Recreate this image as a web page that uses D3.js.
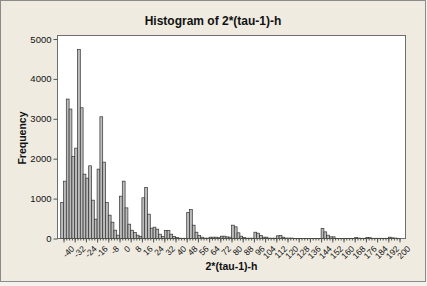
<!DOCTYPE html>
<html>
<head>
<meta charset="utf-8">
<script src="https://cdn.jsdelivr.net/npm/d3@7"></script>
<style>
  html, body { margin: 0; padding: 0; background: #f4f2ec; }
  svg { display: block; }
</style>
</head>
<body>
<div class="viz"></div>
<script>
// histogram counts, bins of width 2 starting at -42
var binStart = -42,
    binWidth = 2;

var counts = [
    903, 1437, 3495, 3244, 2057, 2265, 4741, 3277, 1613, 1513,
    1822, 961, 484, 1739, 3051, 1914, 903, 585, 409, 208,
    83, 1061, 1437, 768, 359, 208, 150, 83, 50, 1020,
    1280, 610, 259, 284, 234, 108, 50, 200, 200, 108,
    50, 25, 8, 5, 5, 652, 727, 334, 158, 75,
    33, 10, 8, 33, 33, 33, 20, 58, 58, 40,
    33, 334, 292, 142, 58, 25, 8, 8, 8, 158,
    133, 75, 33, 33, 8, 8, 8, 67, 75, 33,
    10, 10, 10, 3, 3, 3, 3, 3, 3, 3,
    3, 3, 3, 250, 166, 83, 42, 42, 4, 4,
    4, 4, 4, 4, 4, 25, 10, 5, 5, 25,
    20, 5, 5, 5, 5, 5, 5, 33, 17, 10,
    5
];

var xTicks = [-40, -32, -24, -16, -8, 0, 8, 16, 24, 32, 40, 48, 56, 64, 72, 80,
    88, 96, 104, 112, 120, 128, 136, 144, 152, 160, 168, 176, 184, 192, 200];
var yTicks = [0, 1000, 2000, 3000, 4000, 5000];

var width = 427,
    height = 286;

var frame = { left: 57.5, right: 405.5, top: 35.5, bottom: 238.5 };

var svg = d3.select(".viz").append("svg")
    .attr("width", width)
    .attr("height", height);

// outer panel
svg.append("rect")
    .attr("x", 0.5).attr("y", 0.5)
    .attr("width", 425).attr("height", 281)
    .attr("fill", "#efebe1")
    .attr("stroke", "#8a8a8a");

// data region
svg.append("rect")
    .attr("x", frame.left).attr("y", frame.top)
    .attr("width", frame.right - frame.left)
    .attr("height", frame.bottom - frame.top)
    .attr("fill", "#ffffff")
    .attr("stroke", "#6e6e6e");

var x = d3.scaleLinear()
    .domain([-40, 200])
    .range([63.5, 399.5]);

var y = d3.scaleLinear()
    .domain([0, 5000])
    .range([238.5, 39]);

var bins = counts.map(function(c, i) {
    return { x0: binStart + i * binWidth, x1: binStart + (i + 1) * binWidth, n: c };
});

svg.append("g")
    .selectAll("rect")
    .data(bins)
    .enter().append("rect")
    .attr("x", function(d) { return x(d.x0); })
    .attr("y", function(d) { return y(d.n); })
    .attr("width", function(d) { return x(d.x1) - x(d.x0); })
    .attr("height", function(d) { return y(0) - y(d.n); })
    .attr("fill", "#bcbcbc")
    .attr("stroke", "#333")
    .attr("stroke-width", 0.7);

var plain = function(d) { return String(d); };

// y axis
var yAxis = svg.append("g")
    .attr("transform", "translate(" + frame.left + ",0)")
    .call(d3.axisLeft(y).tickValues(yTicks).tickSize(4).tickPadding(2).tickFormat(plain));

yAxis.select(".domain").remove();
yAxis.selectAll("line").attr("stroke", "#555");
yAxis.selectAll("text")
    .attr("font-family", "Liberation Sans, Arial, sans-serif")
    .attr("font-size", "9.5px")
    .attr("fill", "#111");

// x axis, minor ticks every 2
var xMinor = svg.append("g")
    .attr("transform", "translate(0," + frame.bottom + ")")
    .call(d3.axisBottom(x).tickValues(d3.range(-40, 201, 2)).tickSize(2).tickFormat(""));
xMinor.select(".domain").remove();
xMinor.selectAll("line").attr("stroke", "#555");

var xAxis = svg.append("g")
    .attr("transform", "translate(0," + frame.bottom + ")")
    .call(d3.axisBottom(x).tickValues(xTicks).tickSize(4).tickPadding(2).tickFormat(plain));

xAxis.select(".domain").remove();
xAxis.selectAll("line").attr("stroke", "#555");
xAxis.selectAll("text")
    .attr("font-family", "Liberation Sans, Arial, sans-serif")
    .attr("font-size", "8.5px")
    .attr("fill", "#111")
    .attr("text-anchor", "end")
    .attr("dy", "0.6em")
    .attr("transform", "translate(3,3) rotate(-45)");

// titles
svg.append("text")
    .attr("x", 213)
    .attr("y", 25)
    .attr("text-anchor", "middle")
    .attr("font-family", "Liberation Sans, Arial, sans-serif")
    .attr("font-weight", "bold")
    .attr("font-size", "12px")
    .attr("fill", "#111")
    .text("Histogram of 2*(tau-1)-h");

svg.append("text")
    .attr("x", (frame.left + frame.right) / 2)
    .attr("y", 270)
    .attr("text-anchor", "middle")
    .attr("font-family", "Liberation Sans, Arial, sans-serif")
    .attr("font-weight", "bold")
    .attr("font-size", "10.5px")
    .attr("fill", "#111")
    .text("2*(tau-1)-h");

svg.append("text")
    .attr("transform", "translate(26,138) rotate(-90)")
    .attr("text-anchor", "middle")
    .attr("font-family", "Liberation Sans, Arial, sans-serif")
    .attr("font-weight", "bold")
    .attr("font-size", "10.5px")
    .attr("fill", "#111")
    .text("Frequency");
</script>
</body>
</html>
